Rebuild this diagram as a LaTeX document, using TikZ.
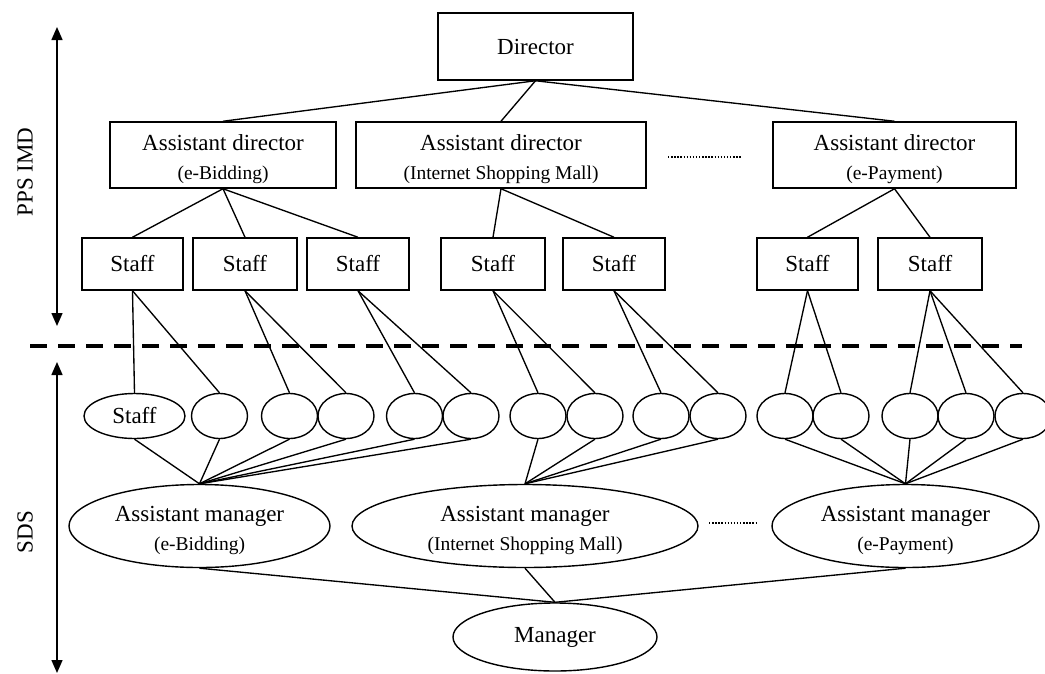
\documentclass[tikz,border=0pt]{standalone}
\usepackage{fontspec}
\setmainfont{Liberation Serif}
\usetikzlibrary{arrows.meta,shapes.geometric}
\newcommand\twoline[2]{\raisebox{-4.5pt}[\height][\depth]{\begin{tabular}{@{}c@{}}#1\\[3pt]{\fontsize{19.5}{22}\selectfont #2}\end{tabular}}}
\begin{document}
\begin{tikzpicture}[x=1pt,y=-1pt,
  every node/.style={font=\fontsize{23}{26}\selectfont, inner sep=0pt},
  box/.style={draw, line width=1.5pt, align=center},
  dirbox/.style={box, minimum height=66},
  staffbox/.style={box, minimum height=52},
  smallell/.style={draw, ellipse, line width=1.4pt, minimum height=45, minimum width=56},
  bigell/.style={draw, ellipse, line width=1.4pt, minimum height=83, align=center},
  link/.style={line width=1.35pt},
  sidearrow/.style={line width=1.5pt, {Triangle[length=13pt,width=11pt]}-{Triangle[length=13pt,width=11pt]}},
  dotline/.style={line width=1.4pt, dash pattern=on 1.4pt off 1.7pt},
]
\useasboundingbox (0,0) rectangle (1045,673);

% top hierarchy
\node[dirbox, minimum width=195, minimum height=67] (dir) at (535.5,46.5) {Director};
\node[dirbox, minimum width=226] (ad1) at (223,155) {\twoline{Assistant director}{(e-Bidding)}};
\node[dirbox, minimum width=290] (ad2) at (501,155) {\twoline{Assistant director}{(Internet Shopping Mall)}};
\node[dirbox, minimum width=243] (ad3) at (894.5,155) {\twoline{Assistant director}{(e-Payment)}};

\node[staffbox, minimum width=101] (s1) at (132.5,264) {Staff};
\node[staffbox, minimum width=104] (s2) at (245,264) {Staff};
\node[staffbox, minimum width=102] (s3) at (358,264) {Staff};
\node[staffbox, minimum width=104] (s4) at (493,264) {Staff};
\node[staffbox, minimum width=102] (s5) at (614,264) {Staff};
\node[staffbox, minimum width=101] (s6) at (807.5,264) {Staff};
\node[staffbox, minimum width=104] (s7) at (930,264) {Staff};

\draw[link] (dir.south) -- (ad1.north);
\draw[link] (dir.south) -- (ad2.north);
\draw[link] (dir.south) -- (ad3.north);
\foreach \s in {s1,s2,s3} \draw[link] (ad1.south) -- (\s.north);
\foreach \s in {s4,s5} \draw[link] (ad2.south) -- (\s.north);
\foreach \s in {s6,s7} \draw[link] (ad3.south) -- (\s.north);

\coordinate (d1a) at (668,157); \coordinate (d1b) at (741,157);
\draw[dotline] (d1a) -- (d1b);

% bottom hierarchy
\node[smallell, minimum width=101] (e1) at (134.5,416) {Staff};
\node[smallell] (e2) at (219.5,416) {};
\node[smallell] (e3) at (289.5,416) {};
\node[smallell] (e4) at (346,416) {};
\node[smallell] (e5) at (414.5,416) {};
\node[smallell] (e6) at (471,416) {};
\node[smallell] (e7) at (538,416) {};
\node[smallell] (e8) at (595,416) {};
\node[smallell] (e9) at (661,416) {};
\node[smallell] (e10) at (718,416) {};
\node[smallell] (e11) at (785,416) {};
\node[smallell] (e12) at (841,416) {};
\node[smallell] (e13) at (910,416) {};
\node[smallell] (e14) at (966,416) {};
\node[smallell] (e15) at (1023,416) {};

\draw[link] (s1.south) -- (e1.north);
\draw[link] (s1.south) -- (e2.north);
\draw[link] (s2.south) -- (e3.north);
\draw[link] (s2.south) -- (e4.north);
\draw[link] (s3.south) -- (e5.north);
\draw[link] (s3.south) -- (e6.north);
\draw[link] (s4.south) -- (e7.north);
\draw[link] (s4.south) -- (e8.north);
\draw[link] (s5.south) -- (e9.north);
\draw[link] (s5.south) -- (e10.north);
\draw[link] (s6.south) -- (e11.north);
\draw[link] (s6.south) -- (e12.north);
\draw[link] (s7.south) -- (e13.north);
\draw[link] (s7.south) -- (e14.north);
\draw[link] (s7.south) -- (e15.north);

\node[bigell, minimum width=261] (am1) at (199.5,526) {\twoline{Assistant manager}{(e-Bidding)}};
\node[bigell, minimum width=346] (am2) at (525,526) {\twoline{Assistant manager}{(Internet Shopping Mall)}};
\node[bigell, minimum width=267] (am3) at (905.5,526) {\twoline{Assistant manager}{(e-Payment)}};
\node[draw, ellipse, line width=1.4pt, minimum width=204, minimum height=68] (mgr) at (555,637) {Manager};

\foreach \e in {e1,e2,e3,e4,e5,e6} \draw[link] (\e.south) -- (am1.north);
\foreach \e in {e7,e8,e9,e10} \draw[link] (\e.south) -- (am2.north);
\foreach \e in {e11,e12,e13,e14,e15} \draw[link] (\e.south) -- (am3.north);
\draw[link] (am1.south) -- (mgr.north);
\draw[link] (am2.south) -- (mgr.north);
\draw[link] (am3.south) -- (mgr.north);

\coordinate (d2a) at (709,523); \coordinate (d2b) at (757,523);
\draw[dotline] (d2a) -- (d2b);

% separator
\coordinate (sepL) at (30,346); \coordinate (sepR) at (1022,346);
\draw[line width=3.8pt, dash pattern=on 17pt off 11pt] (sepL) -- (sepR);

% side arrows and labels
\coordinate (pa) at (57,27); \coordinate (pb) at (57,326);
\draw[sidearrow] (pa) -- (pb);
\coordinate (sa) at (57,362); \coordinate (sb) at (57,673);
\draw[sidearrow] (sa) -- (sb);
\node[rotate=90] (pps) at (25,172) {PPS IMD};
\node[rotate=90] (sds) at (25,532) {SDS};
\end{tikzpicture}
\end{document}
